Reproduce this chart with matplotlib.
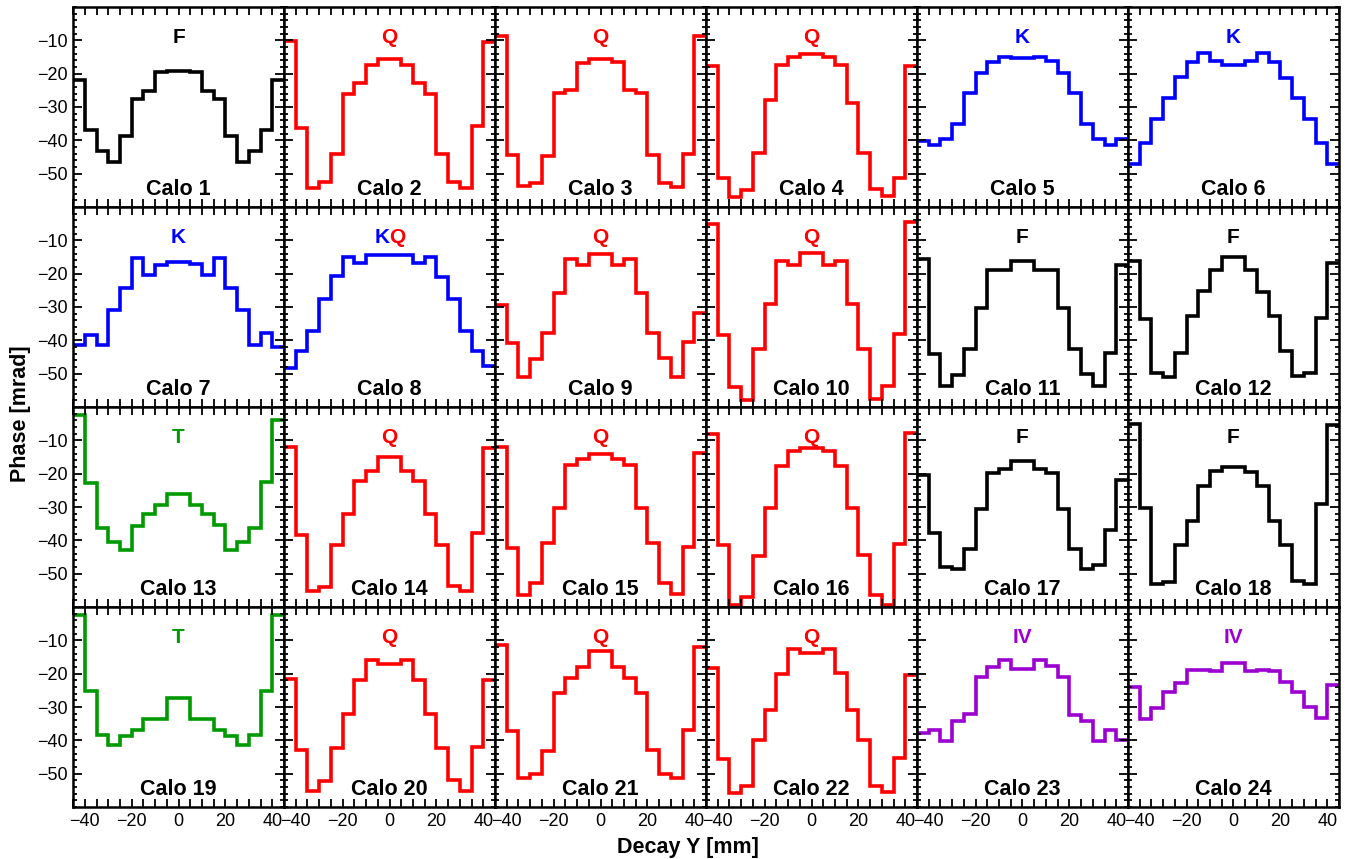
import matplotlib
matplotlib.use("Agg")
import matplotlib.pyplot as plt
from matplotlib.ticker import FixedLocator, MultipleLocator

plt.rcParams['font.family'] = ['Liberation Sans', 'DejaVu Sans']

# Decay Y bins [mm]
bin_edges = [-45, -40, -35, -30, -25, -20, -15, -10, -5, 0,
             5, 10, 15, 20, 25, 30, 35, 40, 45]

# Phase per bin [mrad], one list per calorimeter
calo01 = [-21.9, -36.9, -43.2, -46.4, -38.7, -27.5, -25.2, -19.5, -19.2,
          -19.2, -19.5, -25.2, -27.5, -38.7, -46.4, -43.2, -36.9, -21.9]
calo02 = [-10.2, -36.4, -54.4, -52.4, -44.2, -26.2, -22.7, -17.5, -15.7,
          -15.7, -17.5, -22.7, -26.2, -44.2, -52.4, -54.2, -35.6, -10.5]
calo03 = [-8.7, -44.4, -53.7, -52.7, -44.7, -25.7, -24.9, -16.7, -15.7,
          -15.7, -16.5, -24.9, -25.7, -44.4, -52.7, -53.9, -44.0, -8.7]
calo04 = [-17.7, -51.4, -57.0, -55.0, -43.9, -27.9, -17.5, -14.9, -14.2,
          -14.2, -14.9, -17.5, -28.7, -43.7, -54.7, -56.7, -51.4, -17.7]
calo05 = [-40.2, -41.5, -39.5, -35.0, -25.7, -19.9, -16.5, -15.0, -15.3,
          -15.3, -15.0, -16.2, -19.9, -25.7, -35.0, -39.5, -41.5, -39.5]
calo06 = [-47.2, -40.7, -33.5, -27.4, -21.0, -16.4, -13.9, -16.2, -17.5,
          -17.5, -16.2, -13.9, -16.4, -21.2, -27.4, -33.7, -40.7, -47.2]
calo07 = [-41.5, -38.3, -41.3, -31.0, -24.2, -15.2, -20.3, -17.3, -16.5,
          -16.5, -17.2, -20.3, -15.2, -24.2, -31.0, -41.3, -37.8, -42.0]
calo08 = [-48.2, -43.2, -37.3, -27.5, -20.8, -15.0, -16.8, -14.3, -14.3,
          -14.3, -14.3, -16.8, -15.0, -21.0, -27.5, -37.3, -43.2, -47.7]
calo09 = [-29.5, -40.8, -51.0, -45.5, -37.8, -25.7, -15.5, -17.3, -14.2,
          -14.2, -17.3, -15.5, -25.7, -37.8, -45.3, -51.0, -40.5, -31.8]
calo10 = [-5.0, -38.5, -54.0, -57.8, -42.7, -29.0, -16.2, -17.5, -13.7,
          -13.7, -17.5, -16.2, -29.0, -42.5, -57.5, -53.8, -38.0, -4.5]
calo11 = [-15.5, -44.0, -53.8, -50.5, -42.7, -30.2, -18.8, -18.8, -16.2,
          -16.2, -18.8, -18.8, -30.2, -42.7, -50.0, -53.8, -43.7, -17.5]
calo12 = [-16.2, -33.7, -49.8, -51.0, -43.7, -32.7, -25.2, -18.8, -15.0,
          -15.0, -18.8, -25.5, -32.7, -43.3, -50.7, -49.7, -33.2, -16.8]
calo13 = [-2.5, -22.8, -36.3, -40.5, -43.0, -35.7, -32.0, -29.3, -26.0,
          -26.0, -29.3, -32.0, -35.3, -42.8, -40.5, -36.3, -22.5, -4.0]
calo14 = [-12.0, -38.3, -55.3, -54.0, -41.5, -32.0, -22.3, -19.3, -15.0,
          -15.0, -19.3, -22.3, -32.0, -41.5, -53.8, -55.3, -37.8, -12.3]
calo15 = [-12.0, -42.3, -56.3, -52.8, -40.8, -30.2, -17.3, -15.7, -14.2,
          -14.2, -15.7, -17.3, -30.2, -40.8, -52.8, -56.0, -42.0, -13.7]
calo16 = [-8.0, -41.5, -59.3, -57.0, -44.7, -30.2, -17.7, -13.2, -12.3,
          -12.3, -13.2, -17.7, -30.2, -44.3, -56.5, -59.3, -41.2, -7.8]
calo17 = [-20.3, -37.8, -48.0, -48.7, -42.7, -30.5, -19.7, -18.5, -16.2,
          -16.2, -18.5, -19.7, -30.5, -42.5, -48.7, -47.5, -36.8, -21.8]
calo18 = [-5.0, -30.2, -53.0, -52.5, -41.5, -34.3, -23.8, -19.3, -18.0,
          -18.0, -19.5, -23.8, -34.3, -41.5, -52.3, -53.0, -29.0, -5.5]
calo19 = [-2.5, -25.2, -38.5, -41.5, -38.8, -36.8, -33.5, -33.5, -27.2,
          -27.2, -33.5, -33.5, -36.8, -38.8, -41.5, -38.5, -25.2, -2.5]
calo20 = [-21.5, -43.0, -55.3, -52.3, -42.2, -32.2, -21.8, -15.8, -17.0,
          -17.0, -15.8, -21.8, -32.2, -42.2, -52.0, -55.3, -42.0, -22.0]
calo21 = [-11.3, -37.2, -51.2, -50.0, -43.2, -25.8, -21.3, -18.0, -13.3,
          -13.3, -18.0, -21.3, -25.8, -43.0, -50.0, -51.2, -37.0, -12.0]
calo22 = [-18.2, -45.5, -55.7, -53.7, -40.0, -30.8, -20.0, -12.5, -13.7,
          -13.7, -12.5, -19.7, -31.0, -39.8, -53.7, -55.5, -45.2, -20.3]
calo23 = [-37.8, -37.0, -40.3, -34.2, -32.0, -21.0, -18.0, -16.0, -18.7,
          -18.7, -16.0, -17.8, -21.0, -32.3, -34.3, -40.3, -36.8, -40.0]
calo24 = [-24.0, -33.5, -30.2, -25.5, -22.8, -19.0, -18.8, -19.3, -16.8,
          -16.8, -19.3, -18.8, -19.2, -22.5, -25.5, -30.0, -33.3, -23.3]

phases = [calo01, calo02, calo03, calo04, calo05, calo06,
          calo07, calo08, calo09, calo10, calo11, calo12,
          calo13, calo14, calo15, calo16, calo17, calo18,
          calo19, calo20, calo21, calo22, calo23, calo24]

# tag shown over each panel
tags = ['F', 'Q', 'Q', 'Q', 'K', 'K',
        'K', 'KQ', 'Q', 'Q', 'F', 'F',
        'T', 'Q', 'Q', 'Q', 'F', 'F',
        'T', 'Q', 'Q', 'Q', 'IV', 'IV']

tag_colors = {'F': 'black', 'Q': '#ff0000', 'K': '#0000ff',
              'T': '#009a00', 'IV': '#9b00d0'}

fig, axes = plt.subplots(4, 6, figsize=(13.48, 8.59), dpi=100,
                         sharex=True, sharey=True)
fig.subplots_adjust(left=0.0542, right=0.9933, top=0.9919, bottom=0.0605,
                    wspace=0, hspace=0)

for i, ax in enumerate(axes.flat):
    tag = tags[i]
    # KQ panel is drawn in the kicker colour
    line_color = tag_colors['K'] if tag == 'KQ' else tag_colors[tag]
    ax.stairs(phases[i], bin_edges, baseline=None, color=line_color,
              linewidth=2.6)

    ax.set_xlim(-45, 45)
    ax.set_ylim(-60, 0)
    ax.xaxis.set_major_locator(FixedLocator([-40, -20, 0, 20, 40]))
    ax.xaxis.set_minor_locator(MultipleLocator(5))
    ax.yaxis.set_major_locator(FixedLocator([-50, -40, -30, -20, -10]))
    ax.yaxis.set_minor_locator(MultipleLocator(2))
    ax.tick_params(which='both', direction='in', top=True, right=True,
                   labelsize=13, width=1.3, pad=4)
    ax.tick_params(axis='x', which='both', length=5.5)
    ax.tick_params(axis='y', which='major', length=6.5)
    ax.tick_params(axis='y', which='minor', length=3)
    for sp in ax.spines.values():
        sp.set_linewidth(1.8)

    ax.text(0.5, 0.06, f'Calo {i + 1}', transform=ax.transAxes,
            ha='center', va='baseline', fontsize=15.5, fontweight='bold')
    if tag == 'KQ':
        ax.text(0.5, 0.82, 'K', transform=ax.transAxes, ha='right',
                va='baseline', fontsize=15, fontweight='bold',
                color=tag_colors['K'])
        ax.text(0.5, 0.82, 'Q', transform=ax.transAxes, ha='left',
                va='baseline', fontsize=15, fontweight='bold',
                color=tag_colors['Q'])
    else:
        ax.text(0.5, 0.82, tag, transform=ax.transAxes, ha='center',
                va='baseline', fontsize=15, fontweight='bold',
                color=tag_colors[tag])

fig.text(0.51, 0.007, 'Decay Y [mm]', ha='center', va='baseline',
         fontsize=15.5, fontweight='bold')
fig.text(0.015, 0.518, 'Phase [mrad]', ha='center', va='center',
         rotation=90, fontsize=15.5, fontweight='bold')

fig.savefig('out.png', dpi=100)
